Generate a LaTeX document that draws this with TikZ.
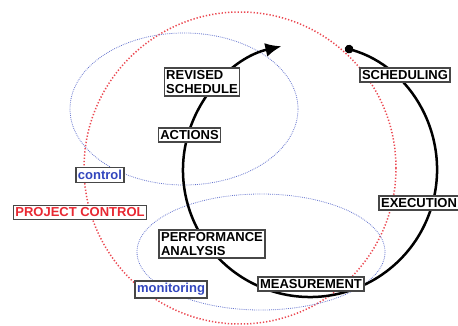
\documentclass[tikz,border=0pt]{standalone}
\usepackage{fontspec}
\setmainfont{Liberation Sans}
\usetikzlibrary{arrows.meta}
\definecolor{pcred}{RGB}{232,40,50}
\definecolor{pcblue}{RGB}{50,70,190}

\begin{document}
\begin{tikzpicture}[x=1pt,y=-1pt,
  box/.style={draw=black!72, line width=1.3pt, fill=white, inner xsep=2pt, inner ysep=2.5pt, font=\fontsize{13}{14}\selectfont\bfseries, align=left},
  reddots/.style={pcred!85, line width=1.5pt, dash pattern=on 1.3pt off 1.9pt},
  bluedots/.style={pcblue!75, line width=0.8pt, dash pattern=on 0.8pt off 1.1pt}]
\useasboundingbox (0,0) rectangle (458,326);

%Circle [project control]
\draw[reddots] (240,168) circle (156);
%Ellipse [control]
\draw[bluedots] (184,109) ellipse (114 and 76);
%Ellipse [monitoring]
\draw[bluedots] (261,252) ellipse (124 and 58);

%Cycle
\coordinate (cyc) at (310,170);
\coordinate (start) at ([shift={(-74:127)}]cyc);
\draw[line width=2.5pt, {Circle[length=8.5pt]}-{Latex[length=16pt,width=14pt]}] (start) arc[start angle=-74, end angle=257, radius=127];

% Text Node
\node[box] (revised) at (202,82) {REVISED\\SCHEDULE};
% Text Node
\node[box] (actions) at (189.5,135) {ACTIONS};
% Text Node
\node[box] (scheduling) at (405,75) {SCHEDULING};
% Text Node
\node[box] (execution) at (419,203) {EXECUTION};
% Text Node
\node[box] (measurement) at (311,284) {MEASUREMENT};
% Text Node
\node[box] (perf) at (212,244) {PERFORMANCE\\ANALYSIS};
% Text Node
\node[box, text=pcred] (projcontrol) at (80,212.5) {PROJECT CONTROL};
% Text Node
\node[box, text=pcblue] (control) at (100,175) {control};
% Text Node
\node[box, text=pcblue] (monitoring) at (171,289.5) {monitoring};

\end{tikzpicture}
\end{document}
